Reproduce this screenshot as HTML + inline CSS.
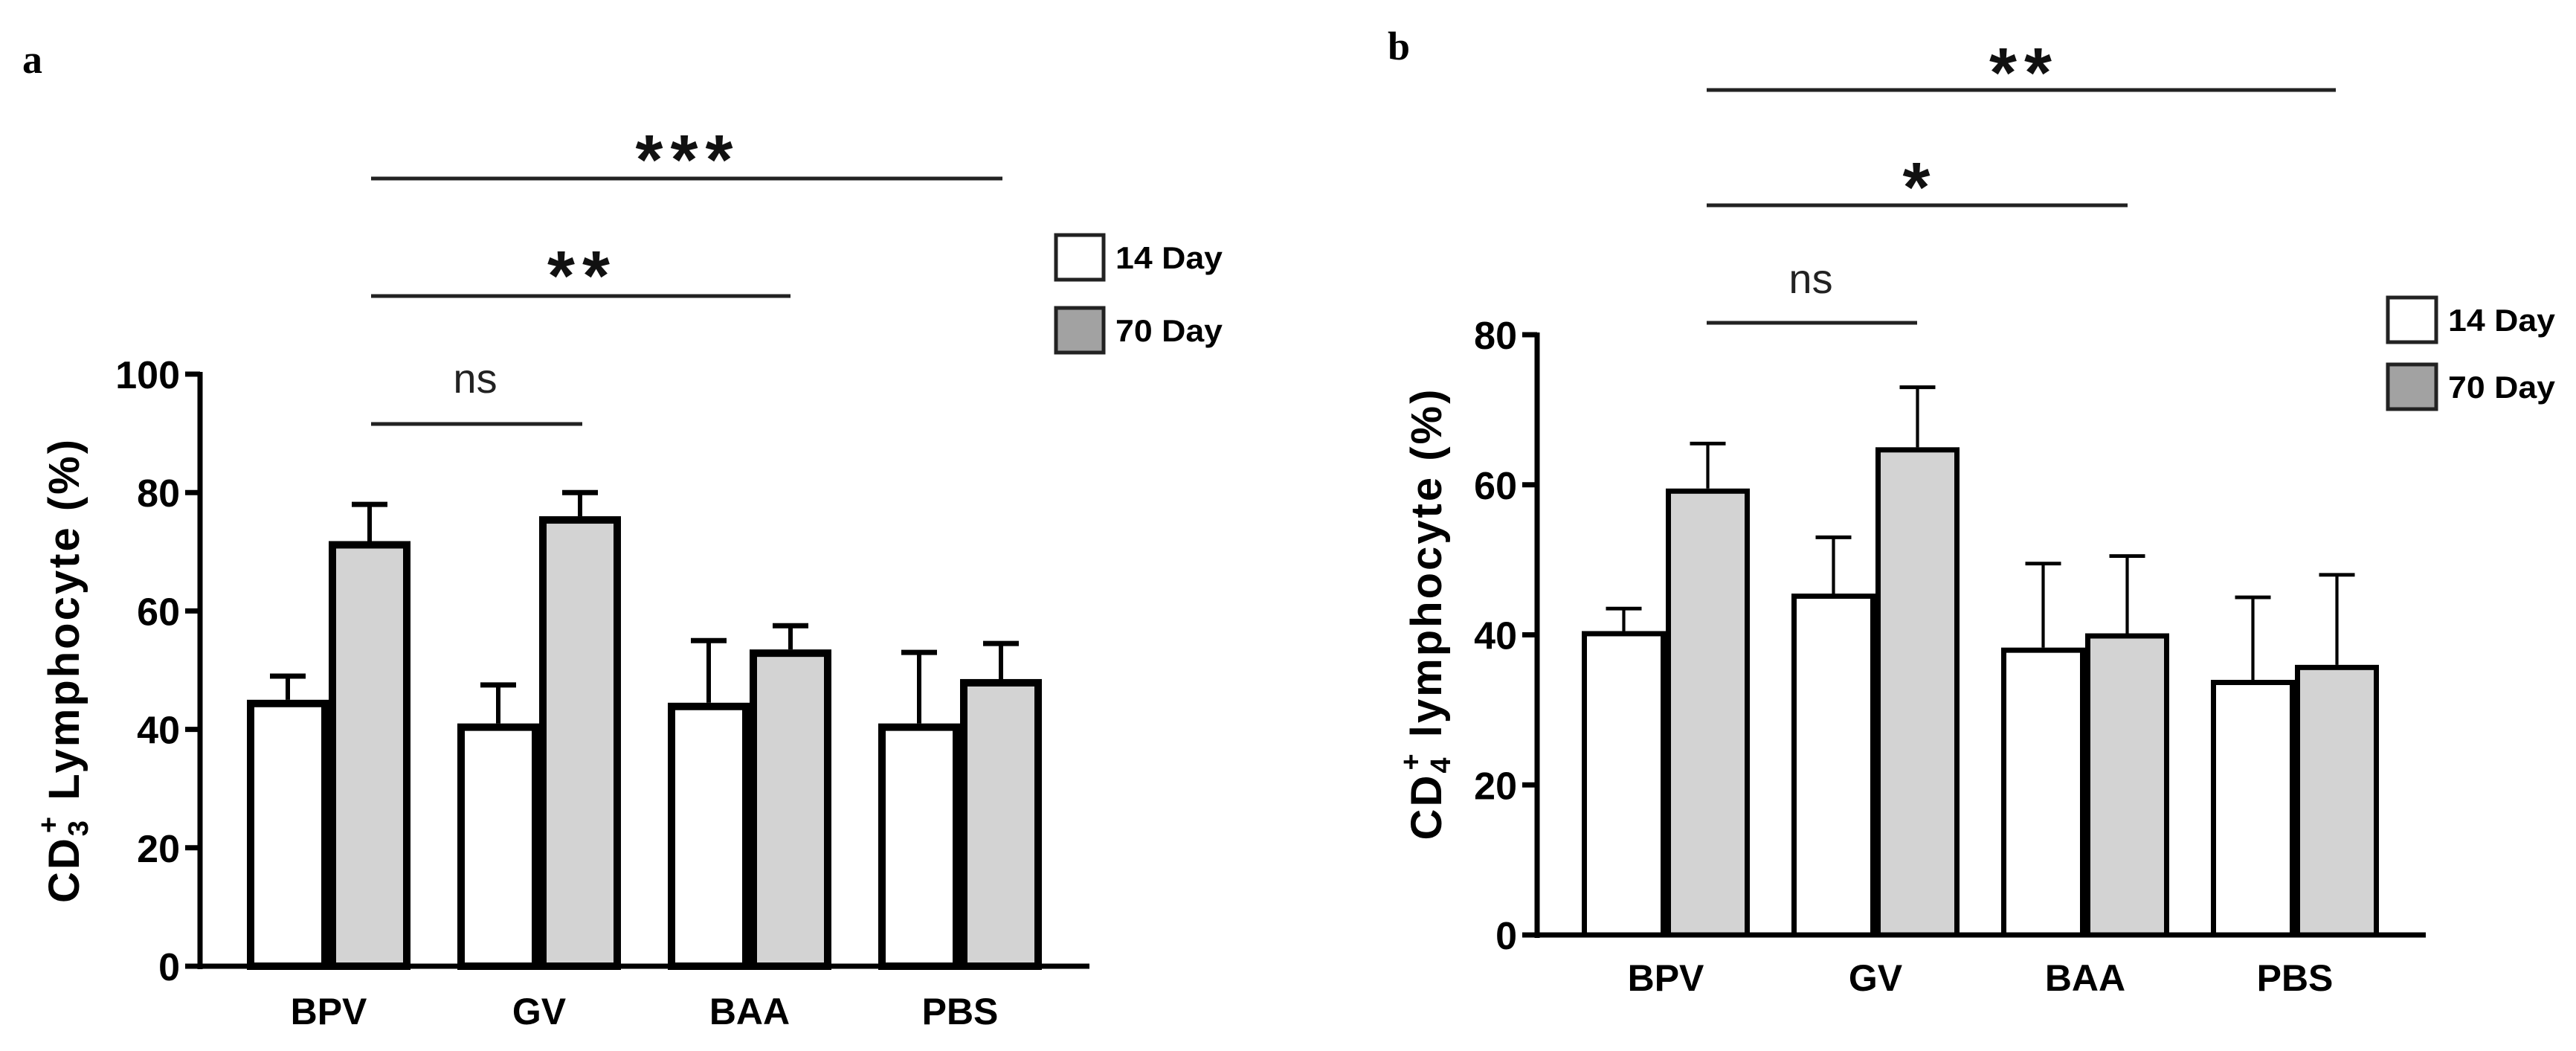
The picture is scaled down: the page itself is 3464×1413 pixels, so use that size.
<!DOCTYPE html>
<html><head><meta charset="utf-8"><style>
html,body{margin:0;padding:0;background:#fff;}
svg{display:block;font-family:"Liberation Sans",Arial,sans-serif;}
</style></head><body>
<svg id="chart" width="3464" height="1413" viewBox="0 0 3464 1413" xmlns="http://www.w3.org/2000/svg"></svg>
<script>
const categories = ["BPV","GV","BAA","PBS"];
const aDay14 = [45, 41, 44.5, 41];
const aDay14Err = [49, 47.5, 55, 53];
const aDay70 = [71.8, 76, 53.5, 48.5];
const aDay70Err = [78, 80, 57.5, 54.5];
const aTicks = [0,20,40,60,80,100];
const bDay14 = [40.5, 45.5, 38.3, 34];
const bDay14Err = [43.5, 53, 49.5, 45];
const bDay70 = [59.5, 65, 40.2, 36];
const bDay70Err = [65.5, 73, 50.5, 48];
const bTicks = [0,20,40,60,80];
const legendLabels = ["14 Day","70 Day"];

const NS = "http://www.w3.org/2000/svg";
const svg = document.getElementById("chart");
function mk(tag, attrs, parent, text){
  const e = document.createElementNS(NS, tag);
  for (const k in attrs) e.setAttribute(k, attrs[k]);
  if (text !== undefined) e.textContent = text;
  (parent||svg).appendChild(e);
  return e;
}

function panel(cfg){
  const g = mk("g", {});
  
  
  const y = v => cfg.y0 - (v / cfg.ymax) * (cfg.y0 - cfg.ytop);
  const cx = i => cfg.c0 + i * cfg.step;
  const sw = cfg.sw;
  const L = mk("text", {x: cfg.letterX, y: cfg.letterY, "font-family": "'Liberation Serif',serif", "font-weight": "bold", "font-size": 54}, g, cfg.letter);
  
  
  for (let i = 0; i < categories.length; i++){
    const c = cx(i);
    const series = [[cfg.d14[i], cfg.e14[i], "#ffffff", c - cfg.bw, "day14"], [cfg.d70[i], cfg.e70[i], "#d3d3d3", c, "day70"]];
    for (const s of series){
      const left = s[3] + sw/2, w = cfg.bw - sw, top = y(s[0]);
      const ex = s[3] + cfg.bw/2;
      const el = mk("line", {x1: ex, x2: ex, y1: top, y2: y(s[1]), stroke: "#000", "stroke-width": sw*0.6}, g);
      
      
      const cap = mk("line", {x1: ex - 24, x2: ex + 24, y1: y(s[1]), y2: y(s[1]), stroke: "#000", "stroke-width": sw*0.7}, g);
      
      
      const r = mk("rect", {x: left, y: top + sw/2, width: w, height: cfg.y0 - top - sw/2, fill: s[2], stroke: "#000", "stroke-width": sw}, g);
      
      
    }
    const t = mk("text", {x: c, y: cfg.xlabY, "text-anchor": "middle", "font-weight": "bold", "font-size": 50}, g, categories[i]);
    
    
  }
  const ya = mk("line", {x1: cfg.ax, x2: cfg.ax, y1: cfg.ytop - 3, y2: cfg.y0 + 4, stroke: "#000", "stroke-width": 7}, g);
  
  
  const xa = mk("line", {x1: cfg.ax - 20, x2: cfg.xend, y1: cfg.y0, y2: cfg.y0, stroke: "#000", "stroke-width": 7}, g);
  
  
  for (const tv of cfg.ticks){
    const tk = mk("line", {x1: cfg.ax - 20, x2: cfg.ax, y1: y(tv), y2: y(tv), stroke: "#000", "stroke-width": 7}, g);
    
    
    const tl = mk("text", {x: cfg.ax - 27, y: y(tv) + 19, "text-anchor": "end", "font-weight": "bold", "font-size": 52}, g, String(tv));
    
    
  }
  const yt = mk("text", {transform: `translate(${cfg.ytX},${cfg.ytY}) rotate(-90)`, "text-anchor": "middle", "font-weight": "bold", "font-size": 58, "letter-spacing": 3}, g);
  
  
  mk("tspan", {}, yt, "CD");
  mk("tspan", {"font-size": 38, dy: 12}, yt, cfg.sub);
  mk("tspan", {"font-size": 38, dy: -40, dx: -20}, yt, "+");
  mk("tspan", {dy: 28}, yt, " " + cfg.titleRest);
  for (const s of cfg.sig){
    const ln = mk("line", {x1: s.x1, x2: s.x2, y1: s.y, y2: s.y, stroke: "#222", "stroke-width": 5}, g);
    
    
    let st;
    if (s.label === "ns") {
      st = mk("text", {x: s.tx, y: s.ty, "text-anchor": "middle", "font-size": 56, fill: "#222"}, g, s.label);
    } else {
      st = mk("text", {x: s.tx + 5, y: s.ty + 52, "text-anchor": "middle", "font-weight": "bold", "font-size": 95, "letter-spacing": 10, fill: "#111"}, g, s.label);
    }
    
    
  }
  const fills = ["#ffffff", "#a2a2a2"];
  for (let k = 0; k < 2; k++){
    const lb = mk("rect", {x: cfg.lgX, y: cfg.lgY[k], width: cfg.lgW, height: cfg.lgH, fill: fills[k], stroke: "#222", "stroke-width": 5}, g);
    
    
    const lt = mk("text", {x: cfg.lgX + cfg.lgW + 16, y: cfg.lgY[k] + cfg.lgH/2 + 15, "font-weight": "bold", "font-size": 42, textLength: 144, lengthAdjust: "spacingAndGlyphs"}, g, legendLabels[k]);
    
    
  }
}

panel({name: "panel-a-cd3", letter: "a", letterX: 30, letterY: 98,
  d14: aDay14, e14: aDay14Err, d70: aDay70, e70: aDay70Err, ticks: aTicks, ymax: 100,
  y0: 1299, ytop: 503, ax: 269, xend: 1465, c0: 442, step: 283, bw: 110, sw: 10, xlabY: 1377,
  ytX: 106, ytY: 901, sub: "3", titleRest: "Lymphocyte (%)",
  sig: [{x1: 499, x2: 1348, y: 240, label: "***", tx: 920, ty: 195},
        {x1: 499, x2: 1063, y: 398, label: "**", tx: 778, ty: 351},
        {x1: 499, x2: 783, y: 570, label: "ns", tx: 639, ty: 528}],
  lgX: 1420, lgY: [316, 414], lgW: 64, lgH: 60});

panel({name: "panel-b-cd4", letter: "b", letterX: 1866, letterY: 80,
  d14: bDay14, e14: bDay14Err, d70: bDay70, e70: bDay70Err, ticks: bTicks, ymax: 80,
  y0: 1257, ytop: 450, ax: 2067, xend: 3262, c0: 2240, step: 282, bw: 113, sw: 7, xlabY: 1332,
  ytX: 1938, ytY: 825, sub: "4", titleRest: "lymphocyte (%)",
  sig: [{x1: 2295, x2: 3141, y: 121, label: "**", tx: 2717, ty: 78},
        {x1: 2295, x2: 2861, y: 276, label: "*", tx: 2577, ty: 232},
        {x1: 2295, x2: 2578, y: 434, label: "ns", tx: 2435, ty: 394}],
  lgX: 3211, lgY: [400, 490], lgW: 65, lgH: 60});
</script>
</body></html>
